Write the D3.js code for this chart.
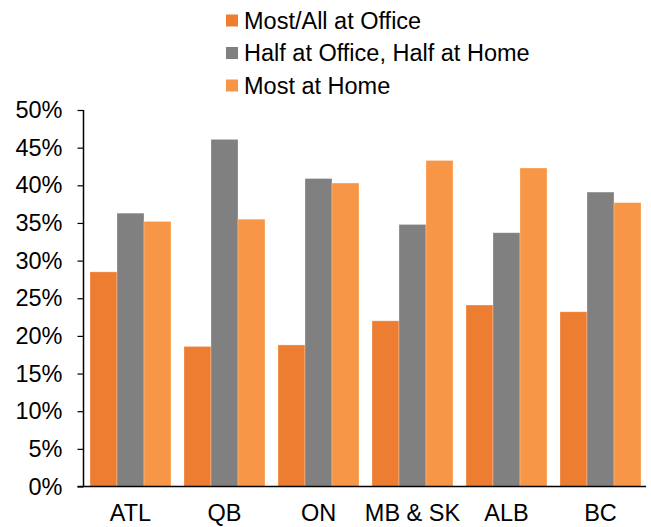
<!DOCTYPE html>
<html>
<head>
<meta charset="utf-8">
<script src="https://cdn.jsdelivr.net/npm/d3@7"></script>
<style>
  body { margin: 0; background: #fff; }
  text { font-family: "Liberation Sans", Arial, sans-serif; fill: #000; }
</style>
</head>
<body>
<div id="chart"></div>
<script>
  let regions = ['ATL', 'QB', 'ON', 'MB & SK', 'ALB', 'BC'];
  let seriesNames = ['Most/All at Office', 'Half at Office, Half at Home', 'Most at Home'];
  let mostOffice = [28.5, 18.6, 18.8, 22.0, 24.1, 23.2];
  let halfHalf = [36.3, 46.1, 40.9, 34.8, 33.7, 39.1];
  let mostHome = [35.2, 35.5, 40.3, 43.3, 42.3, 37.7];
  let yTicks = [0, 5, 10, 15, 20, 25, 30, 35, 40, 45, 50];
  let colors = ['#ED7D31', '#808080', '#F79646'];

  let svgWidth = 651, svgHeight = 527;
  let margin = {top: 110, left: 83.5, right: 3.5, bottom: 40.5};
  let plotWidth = svgWidth - margin.left - margin.right,
    plotHeight = svgHeight - margin.top - margin.bottom;

  let svg = d3.select('#chart').append('svg')
    .attr('width', svgWidth)
    .attr('height', svgHeight);

  let g = svg.append('g')
    .attr('transform', 'translate(' + margin.left + ',' + margin.top + ')');

  let x0 = d3.scaleBand()
    .domain(regions)
    .range([0, plotWidth])
    .padding(0);

  let x1 = d3.scaleBand()
    .domain(seriesNames)
    .range([6.5, x0.bandwidth() - 6.5])
    .padding(0);

  let y = d3.scaleLinear()
    .domain([0, 50])
    .range([plotHeight, 0]);

  let seriesValues = [mostOffice, halfHalf, mostHome];
  let data = regions.map((r, i) => ({
    region: r,
    values: seriesNames.map((s, j) => ({series: s, value: seriesValues[j][i], color: colors[j]}))
  }));

  // bars
  let groups = g.selectAll('.group')
    .data(data)
    .enter()
    .append('g')
    .attr('class', 'group')
    .attr('transform', (d) => 'translate(' + x0(d.region) + ',0)');

  groups.selectAll('rect')
    .data((d) => d.values)
    .enter()
    .append('rect')
    .attr('x', (d) => x1(d.series))
    .attr('y', (d) => y(d.value))
    .attr('width', x1.bandwidth())
    .attr('height', (d) => plotHeight - y(d.value))
    .attr('fill', (d) => d.color)
    .attr('stroke', 'rgba(255,255,255,0.35)')
    .attr('stroke-width', 0.8);

  // y axis
  let yAxis = g.append('g')
    .attr('class', 'y axis')
    .call(d3.axisLeft(y)
      .tickValues(yTicks)
      .tickFormat((d) => d + '%')
      .tickSize(6)
      .tickPadding(15));
  yAxis.select('.domain').attr('stroke', '#000').attr('stroke-width', 1.5)
    .attr('d', 'M0,' + plotHeight + 'V0');
  yAxis.selectAll('.tick line').attr('stroke', '#000').attr('stroke-width', 1.2);
  yAxis.selectAll('.tick text')
    .style('font-size', '23.5px')
    .attr('fill', '#000');

  // x axis
  let xAxis = g.append('g')
    .attr('class', 'x axis')
    .attr('transform', 'translate(0,' + plotHeight + ')')
    .call(d3.axisBottom(x0).tickSize(0).tickPadding(18));
  xAxis.select('.domain').attr('stroke', '#000').attr('stroke-width', 1.5)
    .attr('d', 'M-6,0H' + (plotWidth - 1.5));
  xAxis.selectAll('.tick text')
    .style('font-size', '23.5px')
    .attr('fill', '#000');

  // legend
  let legend = svg.append('g')
    .attr('transform', 'translate(226,20.5)');

  let legendItems = legend.selectAll('.legend-item')
    .data(seriesNames)
    .enter()
    .append('g')
    .attr('class', 'legend-item')
    .attr('transform', (d, i) => 'translate(0,' + (i * 32.5) + ')');

  legendItems.append('rect')
    .attr('x', 0)
    .attr('y', -6)
    .attr('width', 12)
    .attr('height', 12)
    .attr('fill', (d, i) => colors[i]);

  legendItems.append('text')
    .attr('x', 18)
    .attr('y', 0)
    .attr('dy', '0.35em')
    .style('font-size', '23.5px')
    .text((d) => d);
</script>
</body>
</html>
